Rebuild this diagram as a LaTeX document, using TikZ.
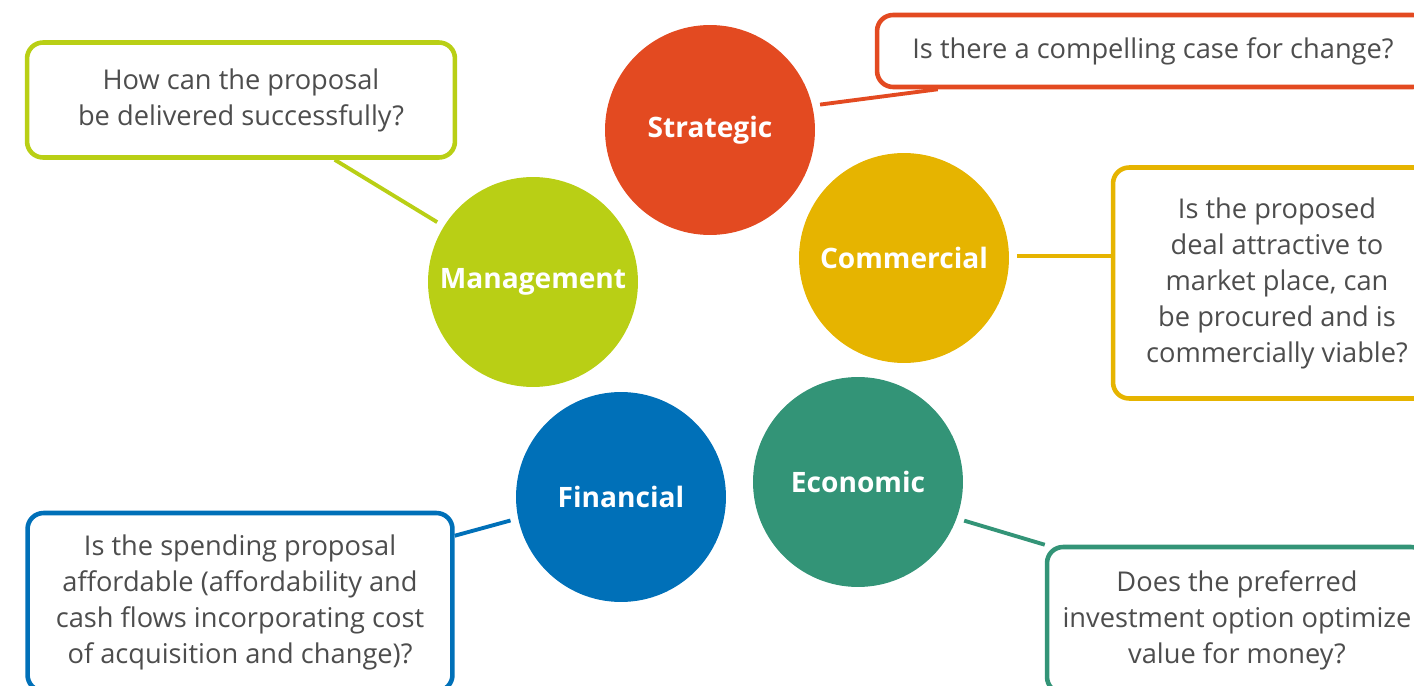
\documentclass[tikz,border=0pt]{standalone}
\usepackage{fontspec}
\setmainfont{Open Sans}[Ligatures=NoCommon]
\usetikzlibrary{backgrounds}
\definecolor{stratred}{HTML}{E34A21}
\definecolor{commgold}{HTML}{E6B400}
\definecolor{mgmtlime}{HTML}{B9CF15}
\definecolor{finblue}{HTML}{0070B8}
\definecolor{econteal}{HTML}{339477}
\definecolor{qgray}{HTML}{4D4D4D}

\begin{document}
\begin{tikzpicture}[
    x=0.02cm, y=-0.02cm,   % one unit is one pixel, y runs down
    case/.style={circle, minimum size=4.2cm, inner sep=0pt, outer sep=0.16cm,
      text=white, font=\bfseries\fontsize{16}{19}\selectfont},
    question/.style={draw, line width=2.6pt, rounded corners=0.32cm, fill=white,
      align=center, text=qgray, font=\fontsize{15.5}{20.5}\selectfont},
    link/.style={line width=2.2pt}
  ]
  \useasboundingbox (0,0) rectangle (1414,686);
  \clip (0,0) rectangle (1414,686);

  % --- THE FIVE CASES ---
  \node[case, fill=stratred] (strat) at (710,130) {Strategic};
  \node[case, fill=commgold] (comm) at (904,258) {Commercial};
  \node[case, fill=mgmtlime] (mgmt) at (533,282) {Management};
  \node[case, fill=finblue] (fin) at (621,497) {Financial};
  \node[case, fill=econteal] (econ) at (858,482) {Economic};

  % --- QUESTIONS ---
  \node[question, draw=stratred, minimum width=11.04cm, minimum height=1.44cm]
    (stratq) at (1153,51) {Is there a compelling case for change?};
  \node[question, draw=commgold, minimum width=6.56cm, minimum height=4.62cm]
    (commq) at (1277,283) {Is the proposed\\ deal attractive to\\ market place, can\\
      be procured and is\\ commercially viable?};
  \node[question, draw=mgmtlime, minimum width=8.56cm, minimum height=2.3cm]
    (mgmtq) at (241,100) {How can the proposal\\ be delivered successfully?};
  \node[question, draw=finblue, minimum width=8.5cm, minimum height=3.56cm]
    (finq) at (240,602) {Is the spending proposal\\ affordable (affordability and\\
      cash flows incorporating cost\\ of acquisition and change)?};
  \node[question, draw=econteal, minimum width=7.6cm, minimum height=2.92cm]
    (econq) at (1237,620) {Does the preferred\\ investment option optimize\\ value for money?};

  % --- LINKS ---
  \begin{pgfonlayer}{background}
    \draw[link, stratred] (strat.13) -- ([xshift=1.26cm]stratq.south west);
    \draw[link, commgold] (comm.1) -- (commq.west |- comm.1);
    \draw[link, mgmtlime] (mgmt.148) -- ([xshift=6.2cm]mgmtq.south west);
    \draw[link, finblue] (fin.192) -- ([yshift=-0.5cm]finq.north east);
    \draw[link, econteal] (econ.-20) -- (econq.north west);
  \end{pgfonlayer}

\end{tikzpicture}
\end{document}
